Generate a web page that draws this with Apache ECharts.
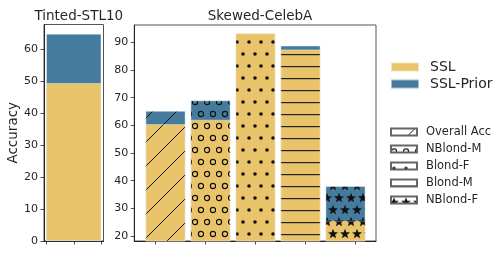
<!DOCTYPE html>
<html>
<head>
<meta charset="utf-8">
<script src="https://cdn.jsdelivr.net/npm/echarts@6/dist/echarts.min.js"></script>
<style>html,body{margin:0;padding:0;background:#fff}#c{width:495px;height:255px}</style>
</head>
<body>
<div id="c"></div>
<script>
// ---- data ----
const stlCategories = ['Tinted-STL10'];
const stlSSL = [49.4];
const stlPrior = [64.8];

const celebaCategories = ['Overall Acc', 'NBlond-M', 'Blond-F', 'Blond-M', 'NBlond-F'];
const celebaSSL = [60.4, 62.0, 93.3, 87.4, 25.5];
const celebaPrior = [65.2, 69.0, 93.0, 88.8, 38.0];

const seriesNames = ['SSL', 'SSL-Prior'];
const stlYTicks = [0, 10, 20, 30, 40, 50, 60];
const celebaYTicks = [20, 30, 40, 50, 60, 70, 80, 90];
const stlXTicks = [-0.4, 0, 0.4];
const celebaXTicks = [0, 1, 2, 3, 4];
const hatchKinds = ['diag', 'circle', 'dot', 'hline', 'star'];

// ---- style ----
const ORANGE = '#e9c46a';
const BLUE = '#457b9d';
const FONT = 'DejaVu Sans';
const TXT = '#262626';

function starPath(ctx, cx, cy, R, r) {
  ctx.beginPath();
  for (let k = 0; k < 10; k++) {
    const rad = k % 2 === 0 ? R : r;
    const a = -Math.PI / 2 + k * Math.PI / 5;
    const x = cx + rad * Math.cos(a), y = cy + rad * Math.sin(a);
    if (k === 0) ctx.moveTo(x, y); else ctx.lineTo(x, y);
  }
  ctx.closePath();
}

function makePattern(kind, bg) {
  const c = document.createElement('canvas');
  let w = 12, h = 24;
  if (kind === 'diag') { w = 24; h = 24; }
  if (kind === 'hline') { w = 12; h = 12; }
  c.width = w; c.height = h;
  const ctx = c.getContext('2d');
  ctx.fillStyle = bg;
  ctx.fillRect(0, 0, w, h);
  ctx.strokeStyle = '#111';
  ctx.fillStyle = '#111';
  ctx.lineWidth = 1;
  if (kind === 'diag') {
    ctx.beginPath();
    ctx.moveTo(-2, 26); ctx.lineTo(26, -2);
    ctx.stroke();
  } else if (kind === 'hline') {
    ctx.fillStyle = '#222';
    ctx.fillRect(0, 6, 12, 1.2);
  } else if (kind === 'dot') {
    [[3, 6], [9, 18]].forEach(p => { ctx.beginPath(); ctx.arc(p[0], p[1], 1.8, 0, Math.PI * 2); ctx.fill(); });
  } else if (kind === 'circle') {
    ctx.lineWidth = 1.2;
    [[3, 6], [9, 18]].forEach(p => { ctx.beginPath(); ctx.arc(p[0], p[1], 2.6, 0, Math.PI * 2); ctx.stroke(); });
  } else if (kind === 'star') {
    [[3, 6], [9, 18], [15, 6], [-3, 18]].forEach(p => { starPath(ctx, p[0], p[1], 5.2, 2.2); ctx.fill(); });
  }
  return { image: c, repeat: 'repeat' };
}

const axisLineStyle = { color: '#222', width: 1 };
const tickStyle = { color: '#222', width: 0.8 };

const option = {
  animation: false,
  backgroundColor: '#fff',
  textStyle: { fontFamily: FONT },
  title: [
    { text: 'Tinted-STL10', left: 73.75, top: 4, textAlign: 'center',
      textStyle: { fontFamily: FONT, fontSize: 13.5, fontWeight: 'normal', color: TXT } },
    { text: 'Skewed-CelebA', left: 255, top: 4, textAlign: 'center',
      textStyle: { fontFamily: FONT, fontSize: 13.5, fontWeight: 'normal', color: TXT } }
  ],
  grid: [
    { left: 44, right: 391.5, top: 24.5, bottom: 14, show: true, borderColor: '#555', borderWidth: 1 },
    { left: 134.3, right: 119, top: 25, bottom: 14, show: true, borderColor: '#555', borderWidth: 1 },
    { left: 143, width: 225, top: 25, bottom: 14 },
    { left: 0, width: 1, top: 0, height: 1 }
  ],
  xAxis: [
    { gridIndex: 0, type: 'value', min: -0.44, max: 0.44,
      axisLine: { show: true, onZero: false, lineStyle: axisLineStyle },
      axisTick: { show: true, length: 3.5, lineStyle: tickStyle, customValues: stlXTicks },
      axisLabel: { show: true, customValues: stlXTicks, formatter: () => '' },
      splitLine: { show: false } },
    { gridIndex: 0, type: 'category', data: stlCategories, show: false, position: 'top' },
    { gridIndex: 1, type: 'value', min: -0.43, max: 4.42,
      axisLine: { show: true, onZero: false, lineStyle: axisLineStyle },
      axisTick: { show: true, length: 3.5, lineStyle: tickStyle, customValues: celebaXTicks },
      axisLabel: { show: true, customValues: celebaXTicks, formatter: () => '' },
      splitLine: { show: false } },
    { gridIndex: 2, type: 'category', data: celebaCategories, show: false },
    { gridIndex: 3, type: 'category', data: ['x'], show: false }
  ],
  yAxis: [
    { gridIndex: 0, type: 'value', min: 0, max: 67.7,
      name: 'Accuracy', nameLocation: 'middle', nameGap: 22,
      nameTextStyle: { fontFamily: FONT, fontSize: 13.5, color: TXT },
      axisLine: { show: true, onZero: false, lineStyle: axisLineStyle },
      axisTick: { show: true, length: 3.5, lineStyle: tickStyle, customValues: stlYTicks },
      axisLabel: { fontFamily: FONT, fontSize: 11, color: TXT, margin: 6, customValues: stlYTicks },
      splitLine: { show: false } },
    { gridIndex: 1, type: 'value', min: 18.2, max: 96.25,
      axisLine: { show: true, onZero: false, lineStyle: axisLineStyle },
      axisTick: { show: true, length: 3.5, lineStyle: tickStyle, customValues: celebaYTicks },
      axisLabel: { fontFamily: FONT, fontSize: 11, color: TXT, margin: 6, customValues: celebaYTicks },
      splitLine: { show: false } },
    { gridIndex: 2, type: 'value', min: 18.2, max: 96.25, show: false, splitLine: { show: false } },
    { gridIndex: 3, type: 'value', show: false, splitLine: { show: false } }
  ],
  legend: [
    { data: seriesNames, orient: 'vertical', left: 385, top: 55, icon: 'rect',
      itemWidth: 28, itemHeight: 9, itemGap: 3,
      textStyle: { fontFamily: FONT, fontSize: 14, color: TXT, padding: [0, 0, 0, 6] } },
    { data: celebaCategories, orient: 'vertical', left: 385, top: 121, icon: 'rect',
      itemWidth: 26, itemHeight: 7, itemGap: 5,
      textStyle: { fontFamily: FONT, fontSize: 11.5, color: TXT, padding: [0, 0, 0, 4] } }
  ],
  series: [
    { name: 'SSL-Prior', type: 'bar', xAxisIndex: 1, yAxisIndex: 0, data: stlPrior,
      barWidth: '93%', barGap: '-100%',
      itemStyle: { color: BLUE, borderColor: 'rgba(255,255,255,0.5)', borderWidth: 0.8 } },
    { name: 'SSL', type: 'bar', xAxisIndex: 1, yAxisIndex: 0, data: stlSSL,
      barWidth: '93%', barGap: '-100%',
      itemStyle: { color: ORANGE, borderColor: 'rgba(255,255,255,0.5)', borderWidth: 0.8 } },
    { name: 'SSL-Prior', type: 'bar', xAxisIndex: 3, yAxisIndex: 2,
      data: celebaPrior.map((v, i) => ({ value: v, itemStyle: { color: makePattern(hatchKinds[i], BLUE) } })),
      barWidth: 40, barGap: '-100%',
      itemStyle: { color: BLUE, borderColor: 'rgba(255,255,255,0.5)', borderWidth: 0.8 } },
    { name: 'SSL', type: 'bar', xAxisIndex: 3, yAxisIndex: 2,
      data: celebaSSL.map((v, i) => ({ value: v, itemStyle: { color: makePattern(hatchKinds[i], ORANGE) } })),
      barWidth: 40, barGap: '-100%',
      itemStyle: { color: ORANGE, borderColor: 'rgba(255,255,255,0.5)', borderWidth: 0.8 } }
  ].concat(celebaCategories.map((name, i) => ({
    name: name, type: 'bar', xAxisIndex: 4, yAxisIndex: 3, data: [],
    itemStyle: { color: makePattern(hatchKinds[i], '#ffffff'), borderColor: '#666', borderWidth: 0.7 }
  })))
};

const chart = echarts.init(document.getElementById('c'), null, { renderer: 'canvas' });
chart.setOption(option);
</script>
</body>
</html>
